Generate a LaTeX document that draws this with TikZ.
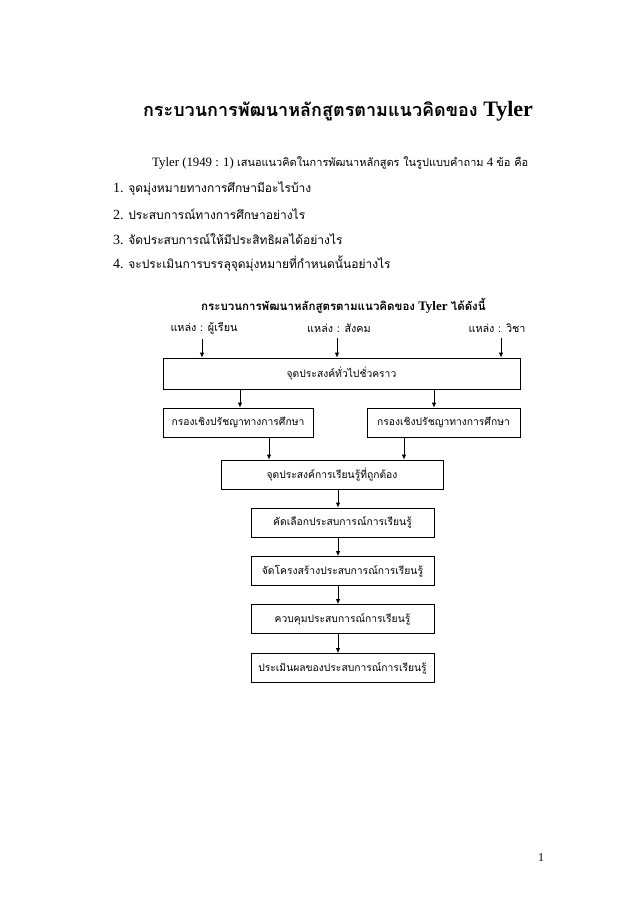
\documentclass[tikz,border=0pt]{standalone}
\usepackage{fontspec}
\usepackage{graphicx}
\setmainfont{Liberation Serif}
\newfontfamily\thai[Script=Thai]{Loma}
\usetikzlibrary{arrows.meta}
\newcommand\fitto[2]{\resizebox{#1}{!}{#2}}
\newcommand\tb{\fontsize{12}{14}\selectfont\thai}
\tikzset{
  box/.style={draw, line width=0.8pt, inner sep=0pt, minimum height=29pt, font=\fontsize{10.3}{12}\selectfont\thai},
  arr/.style={draw, line width=0.8pt, -{Latex[length=5pt,width=4.5pt]}},
  body/.style={anchor=west, inner sep=0pt, font=\fontsize{14}{17}\selectfont},
  src/.style={inner sep=1pt, font=\fontsize{10.8}{12}\selectfont\thai},
}
\begin{document}
\begin{tikzpicture}[x=1pt,y=-1pt]
\useasboundingbox[fill=white] (0,0) rectangle (638,903);
% title
\node[inner sep=0pt] (title) at (338,111) {\bfseries{\fontsize{18}{21}\selectfont\thai กระบวนการพัฒนาหลักสูตรตามแนวคิดของ}\fontsize{22}{26}\selectfont\ Tyler};
% paragraph
\node[body] (p0) at (152,163) {\fitto{376pt}{Tyler (1949 : 1) {\tb เสนอแนวคิดในการพัฒนาหลักสูตร ในรูปแบบคำถาม} 4 {\tb ข้อ คือ}}};
\node[body] (p1) at (113,189) {1. {\tb จุดมุ่งหมายทางการศึกษามีอะไรบ้าง}};
\node[body] (p2) at (113,214) {2. {\tb ประสบการณ์ทางการศึกษาอย่างไร}};
\node[body] (p3) at (113,239) {3. {\tb จัดประสบการณ์ให้มีประสิทธิผลได้อย่างไร}};
\node[body] (p4) at (113,264) {4. {\tb จะประเมินการบรรลุจุดมุ่งหมายที่กำหนดนั้นอย่างไร}};
% subtitle
\node[anchor=west, inner sep=0pt] (sub) at (201,306) {\bfseries{\fontsize{11.5}{14}\selectfont\thai กระบวนการพัฒนาหลักสูตรตามแนวคิดของ}\fontsize{13}{15}\selectfont\ Tyler\ {\fontsize{11.5}{14}\selectfont\thai ได้ดังนี้}};
% sources
\node[src] (s1) at (204,328) {แหล่ง : ผู้เรียน};
\node[src] (s2) at (339,328) {แหล่ง : สังคม};
\node[src] (s3) at (497,328) {แหล่ง : วิชา};
% boxes
\node[box, minimum width=357pt, minimum height=31pt] (b1) at (341.5,373.5) {จุดประสงค์ทั่วไปชั่วคราว};
\node[box, minimum width=150pt] (b2a) at (238,422.5) {กรองเชิงปรัชญาทางการศึกษา};
\node[box, minimum width=153pt] (b2b) at (443.5,422.5) {กรองเชิงปรัชญาทางการศึกษา};
\node[box, minimum width=222pt] (b3) at (332,474.5) {จุดประสงค์การเรียนรู้ที่ถูกต้อง};
\node[box, minimum width=183pt] (b4) at (342.5,522.5) {คัดเลือกประสบการณ์การเรียนรู้};
\node[box, minimum width=183pt] (b5) at (342.5,571) {จัดโครงสร้างประสบการณ์การเรียนรู้};
\node[box, minimum width=183pt] (b6) at (342.5,619) {ควบคุมประสบการณ์การเรียนรู้};
\node[box, minimum width=183pt] (b7) at (342.5,668) {ประเมินผลของประสบการณ์การเรียนรู้};
% page number
\node[inner sep=0pt, font=\fontsize{12}{14}\selectfont] (pg) at (541,858) {1};
% connectors
\draw[arr] ([xshift=-2pt,yshift=-4pt]s1.south) -- ([xshift=-2pt]s1.south |- b1.north);
\draw[arr] ([xshift=-2pt,yshift=-4pt]s2.south) -- ([xshift=-2pt]s2.south |- b1.north);
\draw[arr] ([xshift=4pt,yshift=-4pt]s3.south) -- ([xshift=4pt]s3.south |- b1.north);
\draw[arr] ([xshift=2pt]b2a.north |- b1.south) -- ([xshift=2pt]b2a.north);
\draw[arr] ([xshift=-9.5pt]b2b.north |- b1.south) -- ([xshift=-9.5pt]b2b.north);
\draw[arr] ([xshift=31pt]b2a.south) -- ([xshift=31pt]b2a.south |- b3.north);
\draw[arr] ([xshift=-39.5pt]b2b.south) -- ([xshift=-39.5pt]b2b.south |- b3.north);
\draw[arr] ([xshift=6pt]b3.south) -- ([xshift=6pt]b3.south |- b4.north);
\draw[arr] ([xshift=-4.5pt]b4.south) -- ([xshift=-4.5pt]b5.north);
\draw[arr] ([xshift=-4.5pt]b5.south) -- ([xshift=-4.5pt]b6.north);
\draw[arr] ([xshift=-4.5pt]b6.south) -- ([xshift=-4.5pt]b7.north);
\end{tikzpicture}
\end{document}
